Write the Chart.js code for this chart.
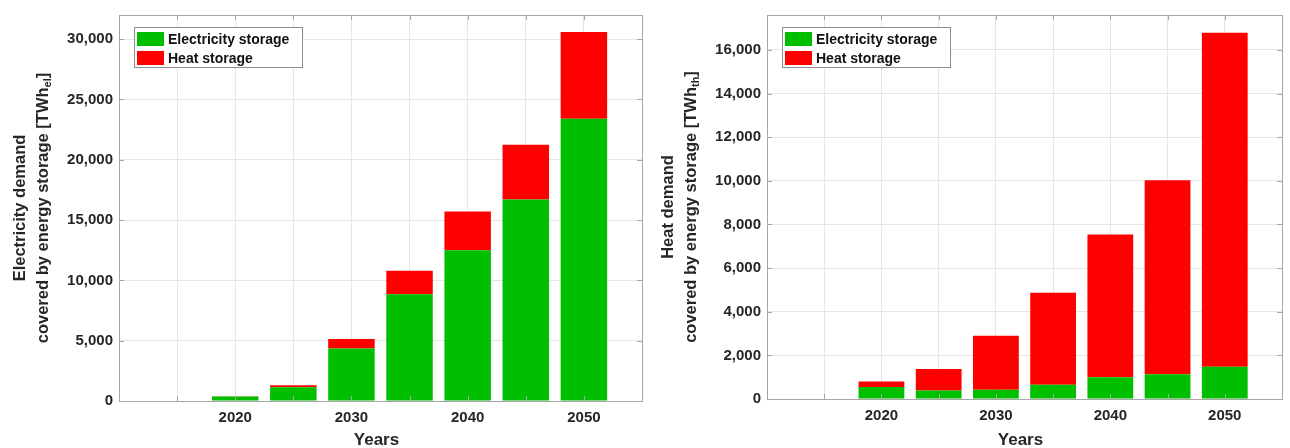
<!DOCTYPE html>
<html>
<head>
<meta charset="utf-8">
<script src="https://cdn.jsdelivr.net/npm/chart.js@4.4.1/dist/chart.umd.min.js"></script>
<style>
	html, body { margin: 0; padding: 0; background: #fff; }
	.panel { position: absolute; top: 0; height: 448px; }
	#leftPanel { left: 0; width: 650px; }
	#rightPanel { left: 650px; width: 640px; }
</style>
</head>
<body>
<div class="panel" id="leftPanel"><canvas id="elecChart"></canvas></div>
<div class="panel" id="rightPanel"><canvas id="heatChart"></canvas></div>
<script>
const years = [2020, 2025, 2030, 2035, 2040, 2045, 2050];
const yearLabels = [2020, 2030, 2040, 2050];
const seriesNames = ['Electricity storage', 'Heat storage'];

// left panel: electricity demand [TWh_el]
const elecFromElectricity = [380, 1150, 4350, 8850, 12500, 16700, 23400];
const elecFromHeat = [20, 150, 800, 1950, 3200, 4550, 7200];
const elecTicks = [0, 5000, 10000, 15000, 20000, 25000, 30000];

// right panel: heat demand [TWh_th]
const heatFromElectricity = [550, 390, 420, 650, 1000, 1130, 1480];
const heatFromHeat = [250, 990, 2480, 4220, 6540, 8900, 15310];
const heatTicks = [0, 2000, 4000, 6000, 8000, 10000, 12000, 14000, 16000];

const GREEN = '#00bf00';
const RED = '#ff0000';
const FONT = '"Liberation Sans", Arial, Helvetica, sans-serif';
const TEXT = '#262626';
const AXIS = '#a6a6a6';
const GRID = '#e6e6e6';

const fmt = new Intl.NumberFormat('en-US');

// plot frame with inward ticks, like matlab "box on"
const framePlugin = {
	id: 'frame',
	afterDatasetsDraw(chart) {
		const { ctx, chartArea: a, scales } = chart;
		ctx.save();
		ctx.strokeStyle = AXIS;
		ctx.lineWidth = 1;
		ctx.beginPath();
		scales.x.ticks.forEach(t => {
			const px = Math.round(scales.x.getPixelForValue(t.value)) + 0.5;
			ctx.moveTo(px, a.bottom); ctx.lineTo(px, a.bottom - 5);
			ctx.moveTo(px, a.top); ctx.lineTo(px, a.top + 5);
		});
		scales.y.ticks.forEach(t => {
			const py = Math.round(scales.y.getPixelForValue(t.value)) + 0.5;
			ctx.moveTo(a.left, py); ctx.lineTo(a.left + 5, py);
			ctx.moveTo(a.right, py); ctx.lineTo(a.right - 5, py);
		});
		ctx.stroke();
		ctx.strokeRect(Math.round(a.left) + 0.5, Math.round(a.top) + 0.5,
			Math.round(a.right - a.left), Math.round(a.bottom - a.top));
		ctx.restore();
	}
};

// legend box inside the plot, top left
const legendPlugin = {
	id: 'boxLegend',
	afterDraw(chart) {
		const { ctx, chartArea: a } = chart;
		const x = a.left + 15, y = a.top + 12, w = 168, h = 40;
		ctx.save();
		ctx.fillStyle = '#fff';
		ctx.fillRect(x, y, w, h);
		ctx.strokeStyle = '#8c8c8c';
		ctx.strokeRect(x + 0.5, y + 0.5, w, h);
		ctx.font = 'bold 14px ' + FONT;
		ctx.textBaseline = 'middle';
		chart.data.datasets.forEach((ds, i) => {
			const cy = y + 12 + i * 19;
			ctx.fillStyle = ds.backgroundColor;
			ctx.fillRect(x + 3, cy - 7, 27, 14);
			ctx.fillStyle = '#111';
			ctx.fillText(ds.label, x + 34, cy + 1);
		});
		ctx.restore();
	}
};

// axis titles, y title has a subscript unit
const titlePlugin = {
	id: 'axisTitles',
	afterDraw(chart, args, opts) {
		const { ctx, chartArea: a } = chart;
		const cy = (a.top + a.bottom) / 2;
		ctx.save();
		ctx.fillStyle = TEXT;
		ctx.textBaseline = 'middle';

		ctx.font = 'bold 17px ' + FONT;
		ctx.textAlign = 'center';
		ctx.fillText('Years', (a.left + a.right) / 2 - 4, 440);

		ctx.translate(a.left - 99, cy);
		ctx.rotate(-Math.PI / 2);
		ctx.font = 'bold 16.5px ' + FONT;
		ctx.fillText(opts.line1, 0, 0);

		ctx.translate(0, 23);
		const main = 'covered by energy storage [TWh';
		const wMain = ctx.measureText(main).width;
		const wClose = ctx.measureText(']').width;
		ctx.font = 'bold 11px ' + FONT;
		const wSub = ctx.measureText(opts.sub).width;
		const x0 = -(wMain + wSub + wClose) / 2;
		ctx.textAlign = 'left';
		ctx.font = 'bold 16.5px ' + FONT;
		ctx.fillText(main, x0, 0);
		ctx.font = 'bold 11px ' + FONT;
		ctx.fillText(opts.sub, x0 + wMain, 5);
		ctx.font = 'bold 16.5px ' + FONT;
		ctx.fillText(']', x0 + wMain + wSub, 0);
		ctx.restore();
	}
};

const makeChart = (canvasId, elecVals, heatVals, cfg) => {
	const toPoints = vals => vals.map((v, i) => ({ x: years[i], y: v }));
	return new Chart(document.getElementById(canvasId).getContext('2d'), {
		type: 'bar',
		data: {
			datasets: [{
				label: seriesNames[0],
				data: toPoints(elecVals),
				backgroundColor: GREEN
			}, {
				label: seriesNames[1],
				data: toPoints(heatVals),
				backgroundColor: RED
			}]
		},
		options: {
			responsive: true,
			maintainAspectRatio: false,
			animation: false,
			layout: { padding: { left: 0, right: cfg.padRight, top: 10, bottom: 0 } },
			datasets: { bar: { barPercentage: 0.8, categoryPercentage: 1 } },
			scales: {
				x: {
					type: 'linear',
					stacked: true,
					min: 2010,
					max: 2055,
					offset: false,
					border: { display: false },
					grid: { color: GRID, drawTicks: false, offset: false },
					ticks: {
						stepSize: 5,
						padding: 8,
						color: TEXT,
						font: { family: FONT, size: 15, weight: 'bold' },
						maxRotation: 0,
						autoSkip: false,
						callback: v => yearLabels.includes(v) ? String(v) : ''
					},
					afterFit: s => { s.height = cfg.xHeight; }
				},
				y: {
					type: 'linear',
					stacked: true,
					min: 0,
					max: cfg.yMax,
					border: { display: false },
					grid: { color: GRID, drawTicks: false },
					ticks: {
						padding: 6,
						autoSkip: false,
						color: TEXT,
						font: { family: FONT, size: 15, weight: 'bold' },
						callback: v => fmt.format(v)
					},
					afterBuildTicks: s => { s.ticks = cfg.yTicks.map(v => ({ value: v })); },
					afterFit: s => { s.width = cfg.yWidth; }
				}
			},
			plugins: {
				legend: { display: false },
				tooltip: { enabled: false },
				axisTitles: { line1: cfg.line1, sub: cfg.sub }
			}
		},
		plugins: [framePlugin, legendPlugin, titlePlugin]
	});
};

makeChart('elecChart', elecFromElectricity, elecFromHeat, {
	yMax: 32000, yTicks: elecTicks, yWidth: 119, xHeight: 47, padRight: 5,
	line1: 'Electricity demand', sub: 'el'
});

makeChart('heatChart', heatFromElectricity, heatFromHeat, {
	yMax: 17600, yTicks: heatTicks, yWidth: 117, xHeight: 49, padRight: 2,
	line1: 'Heat demand', sub: 'th'
});
</script>
</body>
</html>
